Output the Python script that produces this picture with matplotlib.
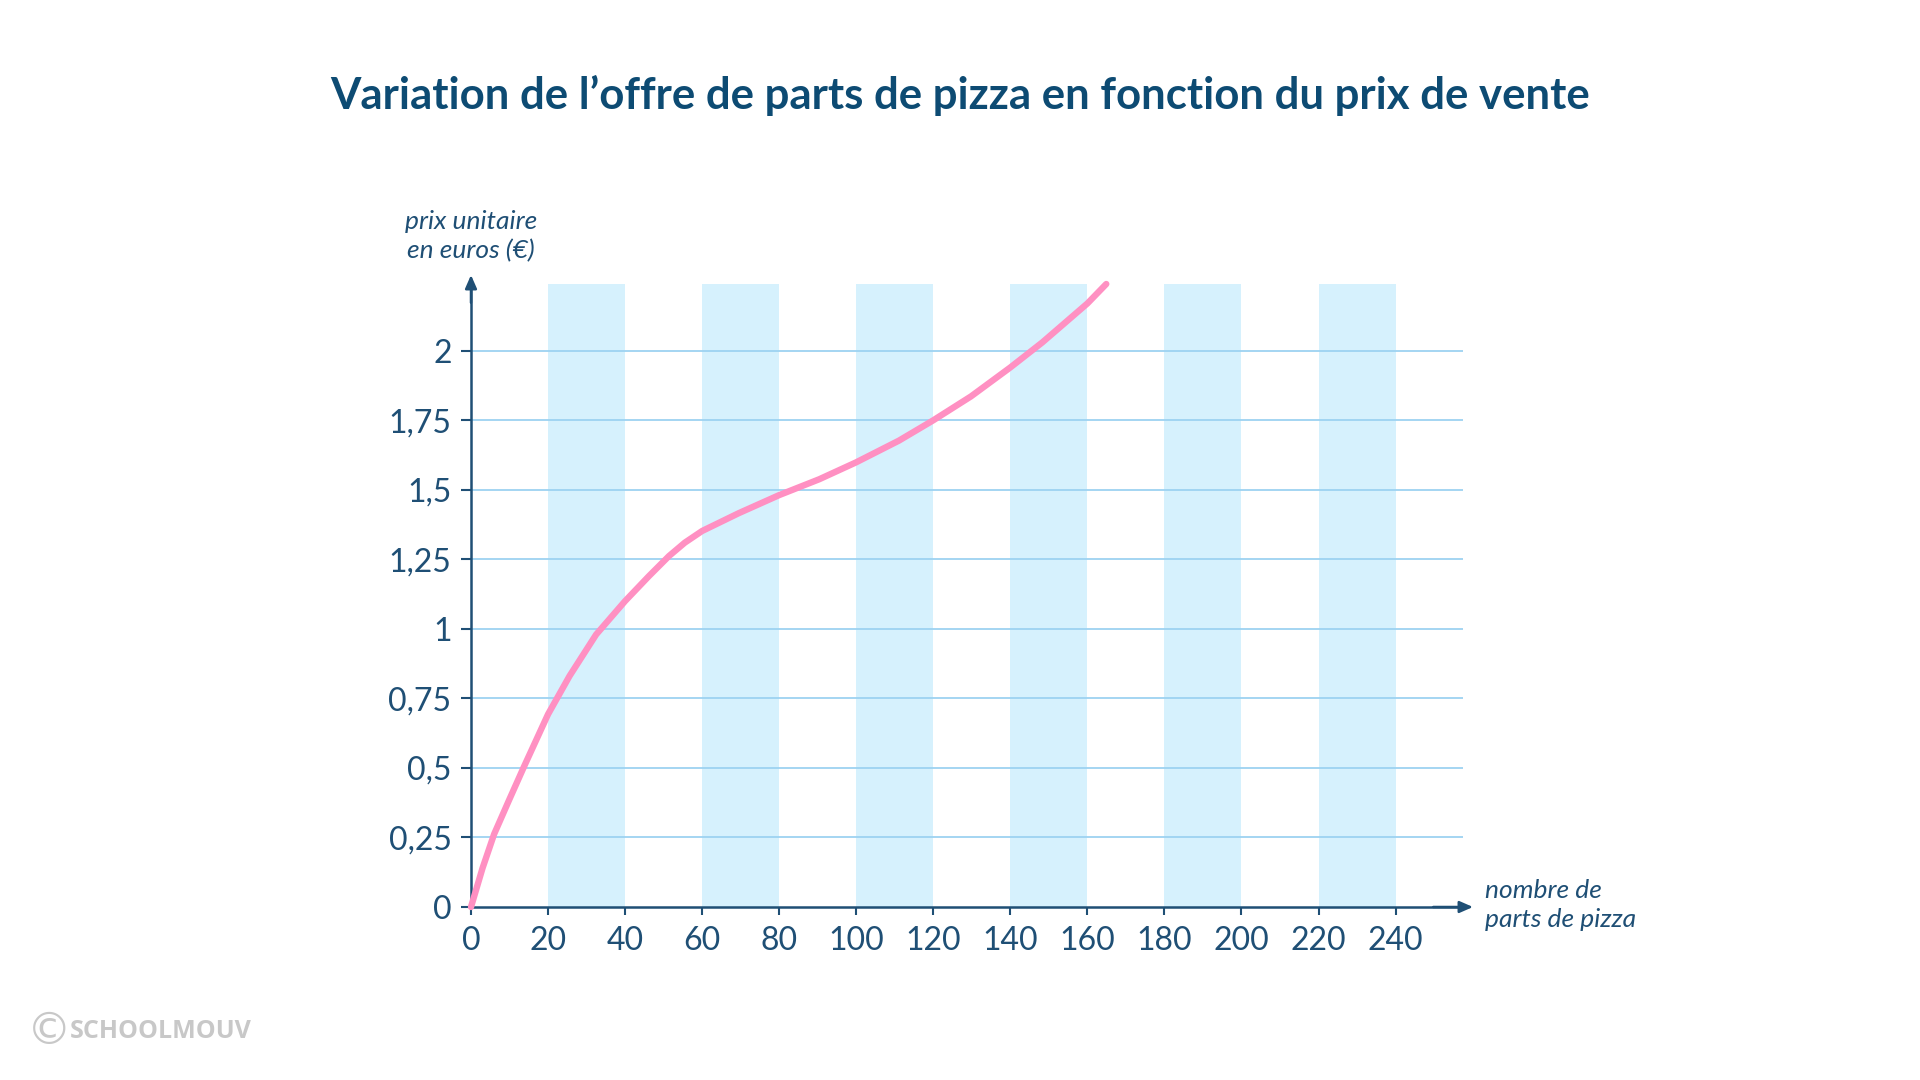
import matplotlib
matplotlib.use("Agg")
import matplotlib.pyplot as plt

# ---- data ----
supply_qty = [0, 3.0, 6.0, 9.9, 13.8, 20, 25.6, 32.5, 40, 46.2, 51.4, 55.5, 60, 69.5,
              80, 90.4, 100, 111.1, 120, 129.8, 140, 148.3, 160, 164.9]
unit_price = [0, 0.14, 0.262, 0.385, 0.506, 0.693, 0.831, 0.98, 1.10, 1.19, 1.262,
              1.31, 1.352, 1.416, 1.481, 1.538, 1.599, 1.677, 1.75, 1.836, 1.94, 2.03,
              2.17, 2.24]
x_ticks = [0, 20, 40, 60, 80, 100, 120, 140, 160, 180, 200, 220, 240]
y_ticks = [0, 0.25, 0.5, 0.75, 1, 1.25, 1.5, 1.75, 2]
y_tick_labels = ["0", "0,25", "0,5", "0,75", "1", "1,25", "1,5", "1,75", "2"]
stripe_starts = [20, 60, 100, 140, 180, 220]
stripe_width = 20

title = "Variation de l\u2019offre de parts de pizza en fonction du prix de vente"
y_label = "prix unitaire\nen euros (\u20ac)"
x_label = "nombre de\nparts de pizza"

# ---- style ----
AX_COL = "#1f4f75"
TITLE_COL = "#0d4b73"
PINK = "#ff90c2"
STRIPE = "#d6f1fd"
GRID = "#9dd2f1"

plt.rcParams['font.family'] = ['Lato', 'DejaVu Sans']

fig = plt.figure(figsize=(19.2, 10.8), dpi=100)
fig.patch.set_facecolor("white")

ax = fig.add_axes([471/1920, 1-907/1080, 992/1920, 623/1080])
XMAX, YMAX = 257.5, 2.24
ax.set_xlim(0, XMAX)
ax.set_ylim(0, YMAX)

for s in stripe_starts:
    ax.axvspan(s, s + stripe_width, color=STRIPE, lw=0, zorder=0)
for yv in y_ticks[1:]:
    ax.axhline(yv, color=GRID, lw=1.3, zorder=1)

ax.plot(supply_qty, unit_price, color=PINK, lw=4.6, solid_capstyle="round",
        solid_joinstyle="round", zorder=5, clip_on=False)

for sp in ["top", "right"]:
    ax.spines[sp].set_visible(False)
ax.spines["left"].set_color(AX_COL)
ax.spines["bottom"].set_color(AX_COL)
ax.spines["left"].set_linewidth(1.8)
ax.spines["bottom"].set_linewidth(1.8)

ax.set_xticks(x_ticks)
ax.set_xticklabels([str(v) for v in x_ticks])
ax.set_yticks(y_ticks)
ax.set_yticklabels(y_tick_labels)
ax.tick_params(axis="x", direction="out", length=6, width=1.5, color=AX_COL,
               labelcolor=AX_COL, labelsize=23, pad=8)
ax.tick_params(axis="y", direction="out", length=7, width=1.5, color=AX_COL,
               labelcolor=AX_COL, labelsize=23, pad=7)
for lab in ax.get_xticklabels() + ax.get_yticklabels():
    lab.set_fontweight("normal")

# axis arrows
ax.annotate("", xy=(0, 1.0 + 9/623), xytext=(0, 0.97), xycoords="axes fraction",
            arrowprops=dict(arrowstyle="-|>,head_length=0.8,head_width=0.35",
                            color=AX_COL, lw=1.8, shrinkA=0, shrinkB=0),
            annotation_clip=False)
ax.annotate("", xy=(1.0 + 10/992, 0), xytext=(0.97, 0), xycoords="axes fraction",
            arrowprops=dict(arrowstyle="-|>,head_length=0.8,head_width=0.35",
                            color=AX_COL, lw=1.8, shrinkA=0, shrinkB=0),
            annotation_clip=False)

# titles / labels
fig.text(0.5, 1 - 95/1080, title, ha="center", va="center", fontsize=31.5,
         fontweight="bold", color=TITLE_COL)
fig.text(471/1920, 1 - 236/1080, y_label, ha="center", va="center", fontsize=19,
         style="italic", color=AX_COL, linespacing=1.3)
fig.text(1485/1920, 1 - 905/1080, x_label, ha="left", va="center", fontsize=19,
         style="italic", color=AX_COL, linespacing=1.3)

# logo
fig.text(27/1920, 1 - 1032/1080, "\u00a9", ha="left", va="center", fontsize=32,
         color="#c8c8c8", family=["DejaVu Sans"])
fig.text(70/1920, 1 - 1032/1080, "SCHOOLMOUV", ha="left", va="center", fontsize=18,
         fontweight="bold", color="#c8c8c8", family=["Open Sans", "DejaVu Sans"])

fig.savefig("out.png", dpi=100, facecolor="white")
